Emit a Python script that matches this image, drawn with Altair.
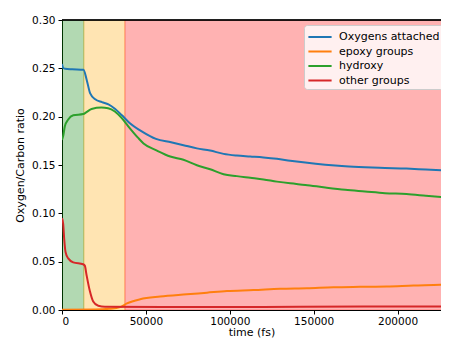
import altair as alt
import pandas as pd

# ---- data ----
series_names = ["Oxygens attached", "epoxy groups", "hydroxy", "other groups"]
series_colors = ["#1f77b4", "#ff7f0e", "#2ca02c", "#d62728"]

oxy_t = [0, 700, 1900, 6000, 12800, 14800, 16800, 19800, 23800, 27700, 31700, 35700,
         39600, 48000, 56000, 65000, 72400, 80400, 88300, 96300, 104200, 112200,
         120100, 128100, 136000, 145000, 156900, 168800, 180600, 192500, 205300,
         216900, 230500]
oxy_v = [0.2545, 0.2505, 0.2495, 0.249, 0.2485, 0.2375, 0.224, 0.218, 0.215, 0.2128,
         0.208, 0.2014, 0.1946, 0.1843, 0.1770, 0.1735, 0.1705, 0.1672, 0.1649, 0.1615,
         0.1598, 0.1588, 0.1578, 0.1564, 0.1545, 0.1525, 0.1503, 0.1487, 0.1477,
         0.1470, 0.1463, 0.1453, 0.1442]

epoxy_t = [0, 20000, 28000, 34700, 38700, 46600, 58500, 74400, 86400, 98300, 114100,
           130000, 146000, 161800, 177700, 193600, 209500, 225400, 230500]
epoxy_v = [0.0003, 0.0005, 0.0012, 0.0030, 0.0068, 0.0111, 0.0139, 0.0162, 0.0179,
           0.0196, 0.0206, 0.0220, 0.0226, 0.0236, 0.0240, 0.0243, 0.0253, 0.0260, 0.0264]

hydroxy_t = [0, 700, 1700, 3700, 6700, 12600, 14600, 17600, 23500, 27500, 31500, 35500,
             39500, 45400, 48600, 56600, 64500, 72400, 80400, 88300, 96300, 104200,
             112200, 120100, 128100, 136000, 145000, 156900, 168800, 180600, 192500,
             205300, 216900, 230500]
hydroxy_v = [0.176, 0.180, 0.190, 0.197, 0.2014, 0.2027, 0.2047, 0.2080, 0.2095, 0.2088,
             0.2054, 0.1987, 0.1900, 0.1780, 0.1723, 0.1649, 0.1588, 0.1554, 0.1497,
             0.1456, 0.1405, 0.1385, 0.1368, 0.1351, 0.1328, 0.1310, 0.1294, 0.1267,
             0.1243, 0.1226, 0.1209, 0.1199, 0.1182, 0.1162]

other_t = [0, 700, 1300, 2100, 3700, 6700, 12600, 13600, 14600, 16600, 18600, 21600,
           25600, 60000, 120000, 180000, 230500]
other_v = [0.095, 0.089, 0.0737, 0.060, 0.0534, 0.0493, 0.0473, 0.0459, 0.0365, 0.0196,
           0.0088, 0.0044, 0.0034, 0.0032, 0.0032, 0.0035, 0.0037]

band_start = [0, 13000, 37500]
band_end = [13000, 37500, 250000]
band_color = ["green", "orange", "red"]

x_ticks = [0, 50000, 100000, 150000, 200000]
y_ticks = [0.0, 0.05, 0.10, 0.15, 0.20, 0.25, 0.30]

# ---- tables ----
rows = []
for name, ts, vs in zip(series_names,
                        [oxy_t, epoxy_t, hydroxy_t, other_t],
                        [oxy_v, epoxy_v, hydroxy_v, other_v]):
    for t, v in zip(ts, vs):
        rows.append({"series": name, "t": t, "v": v})
lines_df = pd.DataFrame(rows)
bands_df = pd.DataFrame({"start": band_start, "end": band_end, "col": band_color})

W, H = 379, 290
xscale = alt.Scale(domain=[0, 225900], nice=False, zero=False)
yscale = alt.Scale(domain=[0, 0.30], nice=False)

bands = alt.Chart(bands_df).mark_rect(
    fillOpacity=0.3, strokeOpacity=0.3, strokeWidth=1, clip=True
).encode(
    x=alt.X("start:Q", scale=xscale),
    x2="end:Q",
    fill=alt.Fill("col:N", scale=None),
    stroke=alt.Stroke("col:N", scale=None),
)

lines = alt.Chart(lines_df).mark_line(strokeWidth=2, clip=True, interpolate="monotone").encode(
    x=alt.X("t:Q", scale=xscale,
            axis=alt.Axis(values=x_ticks, format="d", title="time (fs)",
                          titlePadding=0, labelPadding=2)),
    y=alt.Y("v:Q", scale=yscale,
            axis=alt.Axis(values=y_ticks, format=".2f", title="Oxygen/Carbon ratio",
                          titlePadding=6)),
    color=alt.Color("series:N",
                    scale=alt.Scale(domain=series_names, range=series_colors),
                    legend=alt.Legend(
                        title=None, orient="none", legendX=242, legendY=5,
                        labelFontSize=11, labelFont="DejaVu Sans", labelColor="#000",
                        symbolType="M-1.45,0L1.45,0", symbolSize=256,
                        symbolStrokeWidth=2, symbolOffset=4, labelOffset=10,
                        rowPadding=0.5, padding=3, cornerRadius=3,
                        fillColor="rgba(255,255,255,0.8)", strokeColor="#cccccc",
                    )),
    order=alt.Order("t:Q"),
)

top = alt.Chart(bands_df).mark_rule(color="#000", strokeWidth=1).encode(
    x=alt.value(0), x2=alt.value(W), y=alt.value(0)
)

chart = alt.layer(bands, lines, top).properties(
    width=W, height=H,
    autosize=alt.AutoSizeParams(type="none"),
    padding={"left": 54, "top": 12, "right": 0, "bottom": 29},
).configure_view(stroke=None).configure_axis(
    grid=False, domainColor="#000", tickColor="#000", tickSize=4,
    labelColor="#000", labelFont="DejaVu Sans", labelFontSize=10.5, labelPadding=3,
    titleColor="#000", titleFont="DejaVu Sans", titleFontSize=11, titleFontWeight="normal",
)

chart.save("out.html", embed_options={"renderer": "svg", "actions": False})
